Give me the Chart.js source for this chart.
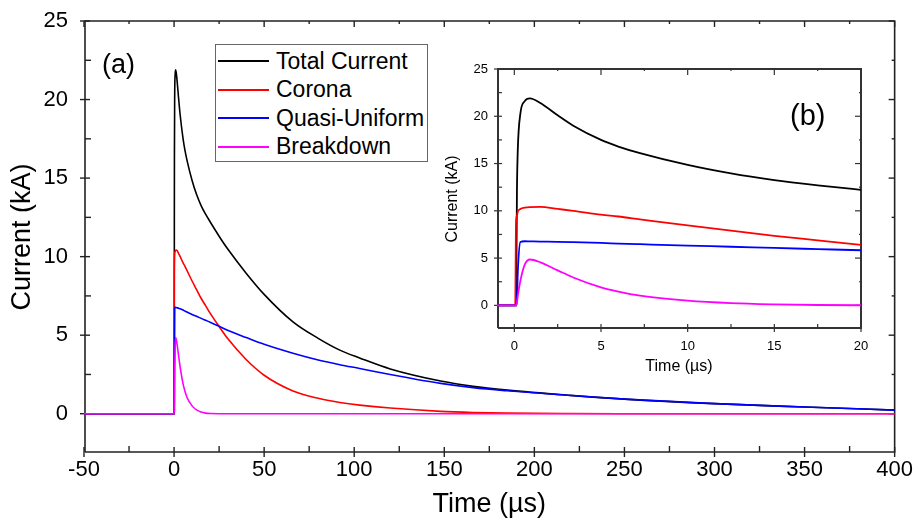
<!DOCTYPE html>
<html lang="en">
<head>
  <meta charset="UTF-8">
  <title>Current components</title>
  <style>
    * { margin: 0; padding: 0; box-sizing: border-box; }
    body {
      width: 913px;
      height: 523px;
      background: #fff;
      overflow: hidden;
      position: relative;
      font-family: 'Liberation Sans', Arial, sans-serif;
      color: #000;
    }
    #mainChart { position: absolute; left: 0; top: 0; }
    #insetChart { position: absolute; left: 440px; top: 45px; }
    .tag { position: absolute; line-height: 1; }
    #tagA { left: 102px; top: 51px; font-size: 27px; }
    #tagB { left: 790px; top: 101px; font-size: 29px; }
    .legend {
      position: absolute;
      left: 215px;
      top: 44px;
      width: 213px;
      height: 118px;
      border: 1px solid #666;
      background: #fff;
      padding-top: 2px;
    }
    .legend .row {
      height: 28.5px;
      display: flex;
      align-items: center;
      font-size: 23px;
      white-space: nowrap;
    }
    .legend .swatch {
      width: 51px;
      margin-left: 2px;
      margin-right: 7px;
      border-top: 2px solid #000;
    }
  </style>
</head>
<body>
  <canvas id="mainChart" width="913" height="523"></canvas>
  <canvas id="insetChart" width="440" height="335"></canvas>
  <div class="tag" id="tagA">(a)</div>
  <div class="tag" id="tagB">(b)</div>
  <div class="legend" id="legend"></div>

  <script src="https://cdn.jsdelivr.net/npm/chart.js"></script>
  <script>
    // time in microseconds, currents in kA
    const times = [-50, 0, 0.05, 0.1, 0.15, 0.2, 0.35, 0.6, 0.9, 1.5, 2.5, 3.4, 5, 6, 7.25, 10, 12.5, 15, 17.5, 20,
                   25, 30, 40, 50, 66, 80, 92, 103, 120, 148, 166, 185, 220, 250, 300, 350, 400];
    const total = [0, 0, 0, 0, 12, 16.5, 20.3, 21.6, 21.9, 21.4, 20.1, 19.0, 17.5, 16.8, 16.1, 14.85, 13.95, 13.25, 12.7, 12.22,
                   11.3, 10.45, 8.95, 7.6, 5.85, 4.8, 4.05, 3.55, 2.85, 2.08, 1.74, 1.5, 1.17, 0.93, 0.64, 0.43, 0.23];
    const corona = [0, 0, 0, 8.9, 9.5, 9.9, 10.2, 10.33, 10.4, 10.42, 10.2, 10.0, 9.6, 9.4, 9.1, 8.45, 7.9, 7.35, 6.88, 6.4,
                    5.55, 4.75, 3.45, 2.45, 1.45, 0.98, 0.72, 0.55, 0.36, 0.15, 0.08, 0.04, 0.01, 0, 0, 0, 0];
    const quasi = [0, 0, 0, 0, 0.5, 3.5, 6.7, 6.78, 6.77, 6.75, 6.72, 6.68, 6.6, 6.54, 6.47, 6.32, 6.2, 6.07, 5.95, 5.83,
                   5.57, 5.3, 4.85, 4.42, 3.85, 3.42, 3.12, 2.88, 2.5, 1.93, 1.66, 1.46, 1.16, 0.93, 0.64, 0.43, 0.23];
    const breakdown = [0, 0, 0, 0, 0.3, 1.0, 2.6, 4.3, 4.85, 4.55, 3.7, 2.95, 1.9, 1.45, 1.02, 0.5, 0.24, 0.11, 0.04, 0.01,
                       0, 0, 0, 0, 0, 0, 0, 0, 0, 0, 0, 0, 0, 0, 0, 0, 0];

    const seriesNames = ['Total Current', 'Corona', 'Quasi-Uniform', 'Breakdown'];
    const seriesColors = ['#000000', '#ff0000', '#0000ff', '#ff00ff'];
    const seriesValues = [total, corona, quasi, breakdown];

    const mainXTicks = [-50, 0, 50, 100, 150, 200, 250, 300, 350, 400];
    const mainXMinor = [-25, 25, 75, 125, 175, 225, 275, 325, 375];
    const mainYTicks = [0, 5, 10, 15, 20, 25];
    const yMinor = [2.5, 7.5, 12.5, 17.5, 22.5];
    const insetXTicks = [0, 5, 10, 15, 20];
    const insetXMinor = [2.5, 7.5, 12.5, 17.5];
    const insetYTicks = [0, 5, 10, 15, 20, 25];

    const FONT = "'Liberation Sans', Arial, sans-serif";
    const Y_MIN = -2.5, Y_MAX = 25;

    function curveDatasets(width) {
      return seriesNames.map((name, i) => ({
        label: name,
        data: times.map((t, k) => ({ x: t, y: seriesValues[i][k] })),
        borderColor: seriesColors[i],
        borderWidth: width,
        pointRadius: 0,
        fill: false,
        cubicInterpolationMode: 'monotone'
      })).reverse();
    }

    // axis box and tick marks, placed through the chart's own scales
    function frameDatasets(cfg) {
      const f = cfg.frame;
      const px = (cfg.xMax - cfg.xMin) / cfg.plotW;   // one pixel in x units
      const py = (Y_MAX - Y_MIN) / cfg.plotH;         // one pixel in y units
      const left = cfg.xMin + px, bottom = Y_MIN + py;
      const marks = (pts, r, rot) => ({
        label: '',
        data: pts,
        showLine: false,
        pointStyle: 'line',
        pointRadius: r,
        pointRotation: rot,
        pointBorderColor: f.color,
        pointBorderWidth: f.tickWidth,
        clip: false
      });
      return [
        {
          label: '',
          data: [
            { x: left, y: bottom }, { x: cfg.xMax, y: bottom },
            { x: cfg.xMax, y: Y_MAX }, { x: left, y: Y_MAX }, { x: left, y: bottom }
          ],
          borderColor: f.color,
          borderWidth: f.width,
          pointRadius: 0,
          tension: 0,
          fill: false,
          clip: false
        },
        marks(cfg.xTicks.map(v => ({ x: v, y: bottom })), f.len, 90),
        marks(cfg.xMinor.map(v => ({ x: v, y: bottom + f.minor * py })), f.minor, 90),
        marks(cfg.yTicks.map(v => ({ x: left, y: v })), f.len, 0),
        marks(yMinor.map(v => ({ x: left + f.minor * px, y: v })), f.minor, 0),
        marks(cfg.xTicks.map(v => ({ x: v, y: Y_MAX - f.top * py })), f.top, 90),
        marks(cfg.yTicks.map(v => ({ x: cfg.xMax - f.top * px, y: v })), f.top, 0),
        marks(cfg.xMinor.map(v => ({ x: v, y: Y_MAX - f.minor * py / 2 })), f.minor / 2, 90),
        marks(yMinor.map(v => ({ x: cfg.xMax - f.minor * px / 2, y: v })), f.minor / 2, 0)
      ];
    }

    function makeOptions(cfg) {
      return {
        responsive: false,
        animation: false,
        devicePixelRatio: 1,
        layout: { padding: { top: cfg.padTop, right: cfg.padRight, left: 0, bottom: 0 } },
        plugins: {
          legend: { display: false },
          tooltip: { enabled: false }
        },
        scales: {
          x: {
            type: 'linear',
            min: cfg.xMin,
            max: cfg.xMax,
            afterBuildTicks: s => { s.ticks = cfg.xTicks.map(v => ({ value: v })); },
            afterFit: s => { s.height = cfg.xHeight; },
            grid: { display: false, drawTicks: false },
            border: { display: false },
            ticks: { color: '#000', padding: cfg.xPad, maxRotation: 0, autoSkip: false,
                     font: { family: FONT, size: cfg.tickSize, lineHeight: cfg.xLine } },
            title: {
              display: true, text: 'Time (\u00b5s)', color: '#000',
              padding: { top: 0, bottom: cfg.xTitlePad },
              font: { family: FONT, size: cfg.titleSize }
            }
          },
          y: {
            type: 'linear',
            min: Y_MIN,
            max: Y_MAX,
            afterBuildTicks: s => { s.ticks = cfg.yTicks.map(v => ({ value: v })); },
            afterFit: s => { s.width = cfg.yWidth; },
            grid: { display: false, drawTicks: false },
            border: { display: false },
            ticks: { color: '#000', padding: cfg.yPad, autoSkip: false,
                     font: { family: FONT, size: cfg.tickSize, lineHeight: 0.3 } },
            title: {
              display: true, text: 'Current (kA)', color: '#000',
              padding: { top: cfg.yTitlePad, bottom: 0 },
              font: { family: FONT, size: cfg.titleSize }
            }
          }
        }
      };
    }

    const mainCfg = {
      xMin: -50, xMax: 400, xTicks: mainXTicks, xMinor: mainXMinor, yTicks: mainYTicks,
      padTop: 21, padRight: 13, xHeight: 70, yWidth: 84, plotW: 811, plotH: 432,
      xPad: 0, xLine: 1.5, yPad: 16, tickSize: 22, titleSize: 27, xTitlePad: 2, yTitlePad: 6,
      frame: { color: '#222', width: 1.6, tickWidth: 1.4, len: 5, minor: 3, top: 3 }
    };
    const insetCfg = {
      xMin: -1, xMax: 20, xTicks: insetXTicks, xMinor: insetXMinor, yTicks: insetYTicks,
      padTop: 24, padRight: 19, xHeight: 51, yWidth: 57, plotW: 364, plotH: 260,
      xPad: 10, xLine: 1.2, yPad: 9, tickSize: 13, titleSize: 16, xTitlePad: 4, yTitlePad: 3,
      frame: { color: '#333', width: 2, tickWidth: 1.2, len: 4, minor: 2, top: 3 }
    };

    new Chart(document.getElementById('mainChart'), {
      type: 'line',
      data: { datasets: curveDatasets(1.6).concat(frameDatasets(mainCfg)) },
      options: makeOptions(mainCfg)
    });

    new Chart(document.getElementById('insetChart'), {
      type: 'line',
      data: { datasets: curveDatasets(1.8).concat(frameDatasets(insetCfg)) },
      options: makeOptions(insetCfg)
    });

    // legend box
    const legend = document.getElementById('legend');
    seriesNames.forEach((name, i) => {
      const row = document.createElement('div');
      row.className = 'row';
      const sw = document.createElement('span');
      sw.className = 'swatch';
      sw.style.borderTopColor = seriesColors[i];
      const label = document.createElement('span');
      label.textContent = name;
      row.appendChild(sw);
      row.appendChild(label);
      legend.appendChild(row);
    });
  </script>
</body>
</html>
